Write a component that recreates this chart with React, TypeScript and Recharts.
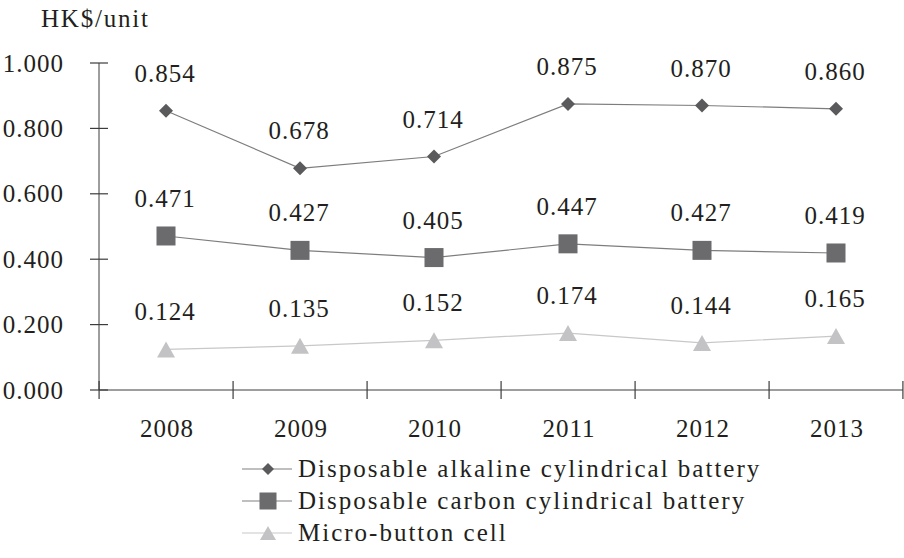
import { LineChart, Line, XAxis, YAxis, Legend } from "recharts";

const years = ["2008", "2009", "2010", "2011", "2012", "2013"];
const alkaline = [0.854, 0.678, 0.714, 0.875, 0.87, 0.86];
const carbon = [0.471, 0.427, 0.405, 0.447, 0.427, 0.419];
const microButton = [0.124, 0.135, 0.152, 0.174, 0.144, 0.165];
const yTicks = [0, 0.2, 0.4, 0.6, 0.8, 1.0];
const unitLabel = "HK$/unit";

const seriesNames = [
  "Disposable alkaline cylindrical battery",
  "Disposable carbon cylindrical battery",
  "Micro-button cell",
];

const data = years.map((year, i) => ({
  year,
  alkaline: alkaline[i],
  carbon: carbon[i],
  micro: microButton[i],
}));

const FONT = '"Liberation Serif", "Times New Roman", Tinos, "DejaVu Serif", "Noto Serif", serif';
const TEXT = "#231f20";
const AXIS = "#3c3c3c";
const W = 904;
const H = 558;
const PLOT_W = 803;

// numbers are a bit narrower than the original face, so spread them a little
const txt = { fontFamily: FONT, fontSize: 25, letterSpacing: 1 };

const DiamondDot = (p: any) => {
  const { cx, cy } = p;
  if (cx == null || cy == null) return null;
  const r = 7;
  return (
    <polygon
      points={`${cx},${cy - r} ${cx + r},${cy} ${cx},${cy + r} ${cx - r},${cy}`}
      fill="#5a5a5c"
    />
  );
};

const SquareDot = (p: any) => {
  const { cx, cy } = p;
  if (cx == null || cy == null) return null;
  const s = 19;
  return <rect x={cx - s / 2} y={cy - s / 2} width={s} height={s} fill="#6b6b6e" />;
};

const TriangleDot = (p: any) => {
  const { cx, cy } = p;
  if (cx == null || cy == null) return null;
  const w = 18;
  const h = 16;
  return (
    <polygon
      points={`${cx},${cy - h / 2} ${cx + w / 2},${cy + h / 2} ${cx - w / 2},${cy + h / 2}`}
      fill="#c3c3c5"
    />
  );
};

const valueLabel = (p: any) => {
  const { x, y, value } = p;
  return (
    <text x={x - 1} y={y - 29} textAnchor="middle" style={txt} fill={TEXT}>
      {Number(value).toFixed(3)}
    </text>
  );
};

const YTick = (p: any) => {
  const { x, y, payload } = p;
  return (
    <g>
      <line x1={x - 9} x2={x + 9} y1={y} y2={y} stroke={AXIS} strokeWidth={1.2} />
      <text x={x - 35} y={y + 8.5} textAnchor="end" style={txt} fill={TEXT}>
        {Number(payload.value).toFixed(3)}
      </text>
    </g>
  );
};

const XTick = (p: any) => {
  const { x, y, payload, index } = p;
  const step = PLOT_W / years.length;
  return (
    <g>
      <line x1={x - step / 2} x2={x - step / 2} y1={y - 9} y2={y + 9} stroke={AXIS} strokeWidth={1.2} />
      {index === years.length - 1 && (
        <line x1={x + step / 2} x2={x + step / 2} y1={y - 9} y2={y + 9} stroke={AXIS} strokeWidth={1.2} />
      )}
      <text x={x + 1} y={y + 46.5} textAnchor="middle" style={txt} fill={TEXT}>
        {payload.value}
      </text>
    </g>
  );
};

const legendMarks = [
  (cx: number, cy: number) => (
    <polygon points={`${cx},${cy - 6} ${cx + 6},${cy} ${cx},${cy + 6} ${cx - 6},${cy}`} fill="#5a5a5c" />
  ),
  (cx: number, cy: number) => <rect x={cx - 8.5} y={cy - 8.5} width={17} height={17} fill="#6b6b6e" />,
  (cx: number, cy: number) => (
    <polygon points={`${cx},${cy - 7} ${cx + 8},${cy + 7} ${cx - 8},${cy + 7}`} fill="#c3c3c5" />
  ),
];
const legendLines = ["#808080", "#808080", "#c8c8c8"];

const LegendBox = () => (
  <div style={{ fontFamily: FONT, fontSize: 25, color: TEXT, letterSpacing: 2 }}>
    {seriesNames.map((name, i) => (
      <div key={name} style={{ display: "flex", alignItems: "center", height: 32 }}>
        <svg width={56} height={32} style={{ display: "block" }}>
          <line x1={0} x2={50} y1={16} y2={16} stroke={legendLines[i]} strokeWidth={1.2} />
          {legendMarks[i](26, 16)}
        </svg>
        <span style={{ whiteSpace: "nowrap", lineHeight: "32px" }}>{name}</span>
      </div>
    ))}
  </div>
);

export default function App() {
  return (
    <div style={{ position: "absolute", left: 0, top: 0, width: W, height: H, background: "#fff", fontFamily: FONT }}>
      <LineChart
        width={W}
        height={H}
        data={data}
        margin={{ top: 63, right: 1, left: 0, bottom: 105 }}
      >
        <XAxis
          dataKey="year"
          scale="band"
          height={63}
          stroke={AXIS}
          tickLine={false}
          tickSize={0}
          tickMargin={0}
          tick={<XTick />}
          interval={0}
        />
        <YAxis
          width={99}
          domain={[0, 1]}
          ticks={yTicks}
          stroke={AXIS}
          tickLine={false}
          tickSize={0}
          tickMargin={0}
          tick={<YTick />}
          interval={0}
          label={{
            content: (lp: any) => (
              <text x={41} y={lp.viewBox.y - 36} style={{ ...txt, letterSpacing: 1.8 }} fill={TEXT}>
                {unitLabel}
              </text>
            ),
          }}
        />
        <Legend
          verticalAlign="middle"
          align="center"
          content={<LegendBox />}
          wrapperStyle={{ left: 242, top: 453, width: 620 }}
        />
        <Line
          dataKey="alkaline"
          name={seriesNames[0]}
          stroke="#7d7d7d"
          strokeWidth={1.2}
          dot={<DiamondDot />}
          activeDot={false}
          label={valueLabel}
          isAnimationActive={false}
        />
        <Line
          dataKey="carbon"
          name={seriesNames[1]}
          stroke="#7d7d7d"
          strokeWidth={1.2}
          dot={<SquareDot />}
          activeDot={false}
          label={valueLabel}
          isAnimationActive={false}
        />
        <Line
          dataKey="micro"
          name={seriesNames[2]}
          stroke="#c8c8c8"
          strokeWidth={1.2}
          dot={<TriangleDot />}
          activeDot={false}
          label={valueLabel}
          isAnimationActive={false}
        />
      </LineChart>
    </div>
  );
}
